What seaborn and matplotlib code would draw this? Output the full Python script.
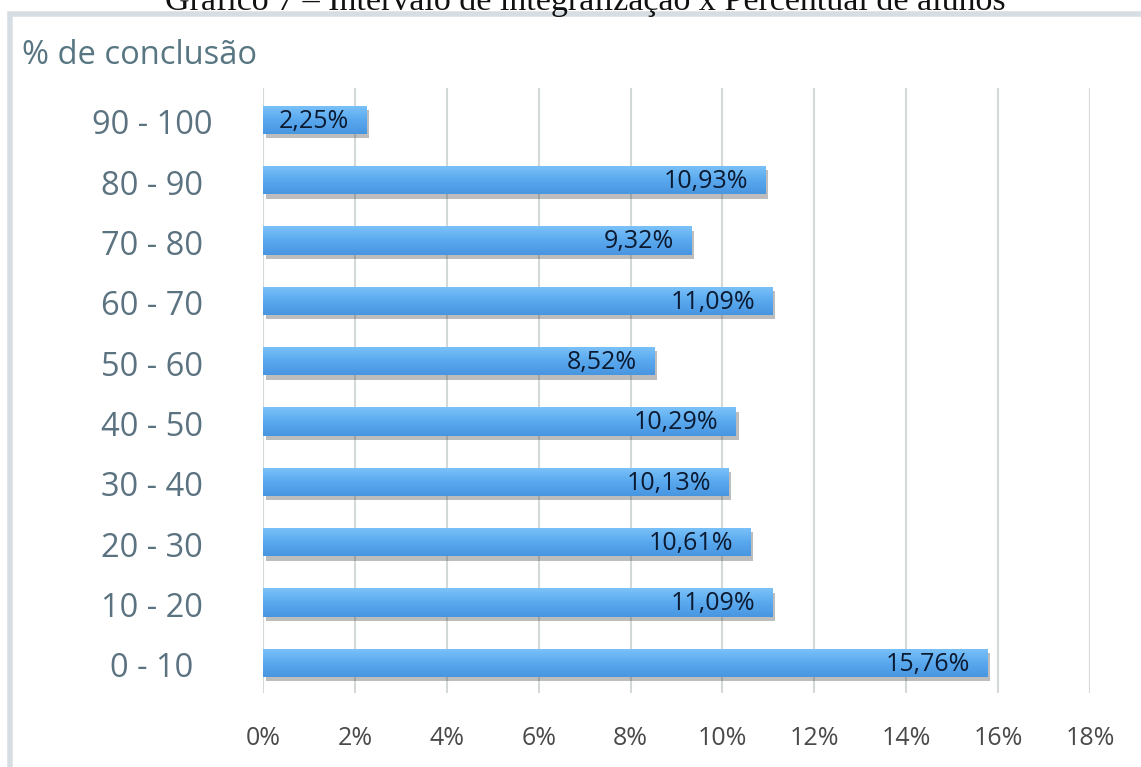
import matplotlib
matplotlib.use("Agg")
import matplotlib.pyplot as plt
import matplotlib.patheffects as pe
import matplotlib.transforms as mtransforms
from matplotlib.patches import Rectangle
from matplotlib.ticker import FuncFormatter
from matplotlib.colors import LinearSegmentedColormap
import numpy as np
import seaborn as sns
import pandas as pd

# Faixas de conclusão do curso (de cima para baixo) e percentual de alunos
faixas = ["90 - 100", "80 - 90", "70 - 80", "60 - 70", "50 - 60",
          "40 - 50", "30 - 40", "20 - 30", "10 - 20", "0 - 10"]
percentuais = [2.25, 10.93, 9.32, 11.09, 8.52, 10.29, 10.13, 10.61, 11.09, 15.76]
rotulos = ["2,25%", "10,93%", "9,32%", "11,09%", "8,52%",
           "10,29%", "10,13%", "10,61%", "11,09%", "15,76%"]
ticks_x = [0, 2, 4, 6, 8, 10, 12, 14, 16, 18]

df = pd.DataFrame({"faixa": faixas, "pct": percentuais})

sns.set_theme(style="white")
plt.rcParams["font.family"] = ["Open Sans", "DejaVu Sans"]

fig = plt.figure(figsize=(11.41, 7.67), dpi=100)
ax = fig.add_axes([263 / 1141, 1 - 693 / 767, (1090 - 263) / 1141, (693 - 88) / 767])

sns.barplot(data=df, x="pct", y="faixa", order=faixas, color="#5aa9ef",
            width=0.47, saturation=1, ax=ax, zorder=3)

# Preenchimento em degradê (claro em cima, mais escuro embaixo) com sombra
grad_cmap = LinearSegmentedColormap.from_list("barra", ["#7cc2f8", "#5aa9ef", "#4896e0"])
grad = np.linspace(0, 1, 64).reshape(-1, 1)
for bar in ax.patches:
    bar.set_edgecolor("none")
    bar.set_path_effects([pe.SimplePatchShadow(offset=(2, -3), alpha=0.35,
                                               shadow_rgbFace="#444444"),
                          pe.Normal()])
    x0, y0 = bar.get_x(), bar.get_y()
    w, h = bar.get_width(), bar.get_height()
    im = ax.imshow(grad, cmap=grad_cmap, aspect="auto", origin="upper",
                   extent=[x0, x0 + w, y0 + h, y0], zorder=3.5,
                   interpolation="bilinear")
    im.set_clip_path(bar)

# Rótulos de valor dentro da ponta de cada barra
for i, (v, txt) in enumerate(zip(percentuais, rotulos)):
    ax.text(v - 0.38, i + 0.02, txt, ha="right", va="center", fontsize=18,
            color="#0b1a30", zorder=5)

ax.set_xlim(0, 18)
ax.set_ylim(9.5, -0.53)
ax.set_xticks(ticks_x)
ax.xaxis.set_major_formatter(FuncFormatter(lambda x, p: f"{int(x)}%"))
ax.tick_params(axis="x", labelsize=18, colors="#4a4a4a", pad=24, length=0)
ax.tick_params(axis="y", labelsize=23.5, colors="#5b7280", length=0, pad=0)
shift = mtransforms.ScaledTranslation(-1.11, -0.02, fig.dpi_scale_trans)
for lbl in ax.get_yticklabels():
    lbl.set_horizontalalignment("center")
    lbl.set_transform(lbl.get_transform() + shift)

ax.grid(axis="x", color="#d3d8d8", linewidth=1.5, zorder=0)
ax.set_axisbelow(True)
for s in ax.spines.values():
    s.set_visible(False)
ax.set_xlabel("")
ax.set_ylabel("")

# Título do eixo de categorias
fig.text(22 / 1141, 1 - 55 / 767, "% de conclusão", fontsize=23.5,
         color="#587682", ha="left", va="center")

# Moldura do painel do gráfico
fig.patches.append(Rectangle((10 / 1141, -0.01), 1.0, 1 - 14 / 767 + 0.01,
                             transform=fig.transFigure, fill=False,
                             edgecolor="#d6dee3", linewidth=4))

# Legenda superior (parcialmente fora da área)
fig.text(585 / 1141, 1 - 1 / 767,
         "Gráfico 7 – Intervalo de integralização x Percentual de alunos",
         fontsize=24.5, family=["Liberation Serif", "DejaVu Serif"],
         color="#111111", ha="center", va="center")

fig.savefig("out.png", dpi=100)
